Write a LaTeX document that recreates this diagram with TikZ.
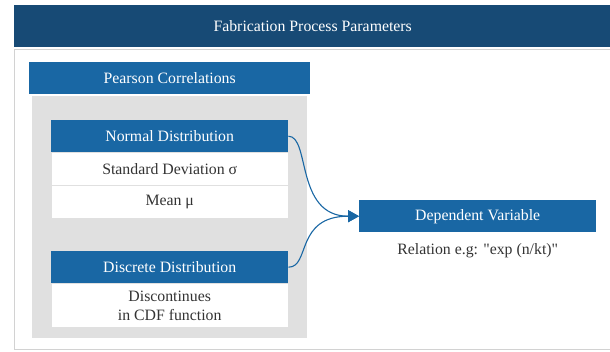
\documentclass[tikz,border=0pt]{standalone}
\usepackage{fontspec}
\setmainfont{Liberation Serif}
\usetikzlibrary{positioning,arrows.meta}

\definecolor{bannerblue}{HTML}{174A75}
\definecolor{headblue}{HTML}{1967A4}
\definecolor{panelgray}{HTML}{E0E0E0}
\definecolor{framegray}{HTML}{D2D2D2}
\definecolor{textgray}{HTML}{333333}

\tikzset{
  head/.style={fill=headblue, text=white, minimum width=237pt, minimum height=32pt,
    inner sep=0pt, anchor=north west},
  cell/.style={fill=white, draw=panelgray, line width=1pt, text=textgray,
    minimum width=237pt, minimum height=33pt, inner sep=0pt, outer sep=0pt},
  conn/.style={draw=headblue, line width=1.1pt, -{Triangle[length=11pt,width=12pt]}}
}

\begin{document}
\begin{tikzpicture}[x=1pt,y=-1pt,font=\fontsize{15.8}{19}\selectfont]
  \useasboundingbox (0,0) rectangle (610,351);

  % frame and title banner
  \draw[framegray, line width=1.6pt] (611,49.3) -- (14.5,49.3) -- (14.5,349.3) -- (611,349.3);
  \node[fill=bannerblue, text=white, minimum width=597pt, minimum height=42pt,
    inner sep=0pt, anchor=north west] (title) at (14,5) {Fabrication Process Parameters};

  % left group
  \node[head, minimum width=281pt] (pearson) at (29,62) {Pearson Correlations};
  \node[fill=panelgray, minimum width=275pt, minimum height=242pt, inner sep=0pt,
    anchor=north west] (panel) at (32,96) {};

  \node[head] (normal) at (51,120) {Normal Distribution};
  \node[cell, below=0pt of normal] (std) {Standard Deviation σ};
  \node[cell, below=0pt of std] (mean) {Mean μ};

  \node[head] (discrete) at (51,251) {Discrete Distribution};
  \node[cell, below=0pt of discrete, minimum height=44pt, align=center] (cdf)
    {Discontinues\\in CDF function};

  % right
  \node[head] (dep) at (359,200) {Dependent Variable};
  \node[text=textgray, below=8pt of dep] (rel)
    {Relation e.g: \textquotedbl exp (n/kt)\textquotedbl};

  \draw[conn] (normal.east) .. controls +(22,0) and +(-64,0) .. (dep.west);
  \draw[conn] (discrete.east) .. controls +(22,0) and +(-64,0) .. (dep.west);
\end{tikzpicture}
\end{document}
